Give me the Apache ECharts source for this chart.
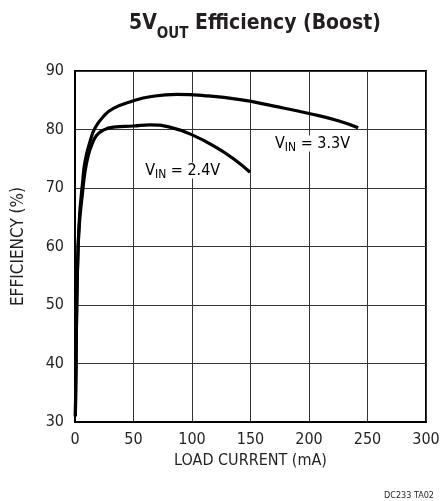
<!DOCTYPE html>
<html>
<head>
<meta charset="utf-8">
<script src="https://cdn.jsdelivr.net/npm/echarts@6/dist/echarts.min.js"></script>
<style>
  html, body { margin: 0; padding: 0; background: #fff; }
  #chart { width: 441px; height: 501px; }
</style>
</head>
<body>
<div id="chart"></div>
<script>
// Load current (mA) vs efficiency (%) for a 5V boost output
const vin33Current = [0.3, 0.9, 1.5, 2.7, 4, 5.1, 6.5, 8.5, 12.8, 17, 24.2, 32.8, 50, 64, 87, 110, 141, 170, 201, 225, 242];
const vin33Eff     = [31, 40, 50, 60, 65.5, 68.2, 71, 74.5, 77.9, 80.2, 82.2, 83.6, 84.9, 85.6, 86.0, 85.8, 85.1, 84.0, 82.7, 81.5, 80.3];
const vin24Current = [0.3, 0.9, 1.5, 2.7, 4, 5.5, 6.5, 8.5, 11.4, 14.2, 18.5, 24.2, 32.8, 50, 64, 81, 101, 121, 136, 149.6];
const vin24Eff     = [31, 40, 50, 60, 64.5, 67.5, 69.3, 72.7, 75.6, 77.3, 79.0, 79.9, 80.4, 80.6, 80.8, 80.4, 79.0, 76.9, 74.9, 72.7];

const xTicks = [0, 50, 100, 150, 200, 250, 300];
const yTicks = [30, 40, 50, 60, 70, 80, 90];

const narrow = '"Liberation Sans Narrow", "Arial Narrow", "DejaVu Sans Condensed", sans-serif';

const chart = echarts.init(document.getElementById('chart'), null, { renderer: 'canvas' });

function pairs(xs, ys) { return xs.map((x, i) => [x, ys[i]]); }

const option = {
  animation: false,
  backgroundColor: '#ffffff',
  title: {
    text: '{b|5V}{s|OUT}{b| Efficiency (Boost)}',
    left: 250,
    textAlign: 'center',
    top: 8,
    textStyle: {
      rich: {
        b: { fontFamily: narrow, fontWeight: 'bold', fontSize: 21, color: '#231f20', verticalAlign: 'top', lineHeight: 30 },
        s: { fontFamily: narrow, fontWeight: 'bold', fontSize: 15, color: '#231f20', padding: [12, 0, 0, 0], lineHeight: 30 }
      }
    }
  },
  grid: {
    left: 75, right: 15, top: 71, bottom: 79,
    outerBoundsMode: 'none', containLabel: false,
    show: true, borderColor: '#000', borderWidth: 2, backgroundColor: 'transparent'
  },
  xAxis: {
    type: 'value', min: 0, max: 300, interval: 50,
    name: 'LOAD CURRENT (mA)', nameLocation: 'middle', nameGap: 28,
    nameTextStyle: { fontFamily: narrow, fontSize: 16, color: '#231f20' },
    axisLine: { show: true, lineStyle: { color: '#000', width: 2 } },
    axisTick: { show: false },
    axisLabel: { fontFamily: narrow, fontSize: 16, color: '#231f20', margin: 10,
      formatter: v => xTicks.includes(v) ? String(v) : '' },
    splitLine: { show: true, lineStyle: { color: '#333', width: 1 } }
  },
  yAxis: {
    type: 'value', min: 30, max: 90, interval: 10,
    name: 'EFFICIENCY (%)', nameLocation: 'middle', nameGap: 48, nameRotate: 90,
    nameTextStyle: { fontFamily: narrow, fontSize: 17, color: '#231f20' },
    axisLine: { show: true, lineStyle: { color: '#000', width: 2 } },
    axisTick: { show: false },
    axisLabel: { fontFamily: narrow, fontSize: 16, color: '#231f20', margin: 11,
      formatter: v => yTicks.includes(v) ? String(v) : '' },
    splitLine: { show: true, lineStyle: { color: '#333', width: 1 } }
  },
  series: [
    {
      name: 'VIN = 3.3V', type: 'line', smooth: 0.5, showSymbol: false,
      data: pairs(vin33Current, vin33Eff),
      lineStyle: { color: '#000', width: 3.2 }, z: 5
    },
    {
      name: 'VIN = 2.4V', type: 'line', smooth: 0.5, showSymbol: false,
      data: pairs(vin24Current, vin24Eff),
      lineStyle: { color: '#000', width: 3.2 }, z: 5
    }
  ]
};
chart.setOption(option);

// Curve labels placed in data coordinates, footer code at page corner
const p24 = chart.convertToPixel({ gridIndex: 0 }, [92, 73]);
const p33 = chart.convertToPixel({ gridIndex: 0 }, [203, 77.6]);
const labelRich = {
  m: { fontFamily: narrow, fontSize: 16, color: '#231f20', backgroundColor: '#fff' },
  s: { fontFamily: narrow, fontSize: 12, color: '#231f20', backgroundColor: '#fff', padding: [8, 0, 0, 0] }
};
chart.setOption({
  graphic: [
    { type: 'text', x: p24[0], y: p24[1], z: 10,
      style: { text: '{m|V}{s|IN}{m| = 2.4V}', rich: labelRich, align: 'center', verticalAlign: 'middle' } },
    { type: 'text', x: p33[0], y: p33[1], z: 10,
      style: { text: '{m|V}{s|IN}{m| = 3.3V}', rich: labelRich, align: 'center', verticalAlign: 'middle' } },
    { type: 'text', left: 384, top: 491,
      style: { text: 'DC233 TA02', fontFamily: narrow, fontSize: 9, fill: '#231f20' } }
  ]
});
</script>
</body>
</html>
